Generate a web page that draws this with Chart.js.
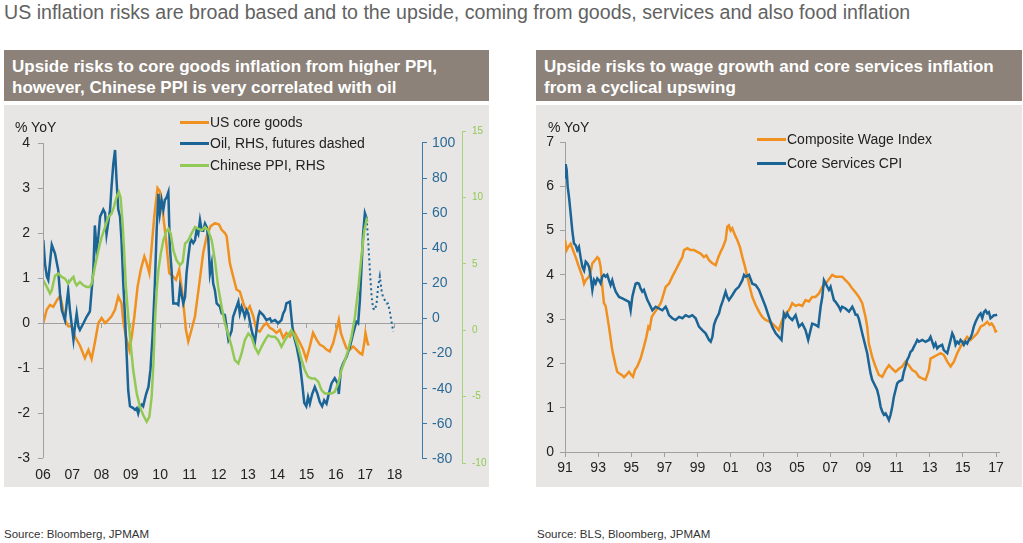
<!DOCTYPE html>
<html>
<head>
<meta charset="utf-8">
<script src="https://cdn.jsdelivr.net/npm/chart.js@4.4.1/dist/chart.umd.min.js"></script>
<style>
  body { margin: 0; background: #fff; font-family: Arial, "Liberation Sans", sans-serif; }
  #page { position: relative; width: 1023px; height: 543px; overflow: hidden; }
  .title { position: absolute; left: 4px; top: 1px; font-size: 19.6px; color: #626262; white-space: nowrap; }
  .head { position: absolute; top: 50px; height: 51px; background: #8c8279; color: #fff; font-weight: bold;
          font-size: 17px; line-height: 21px; box-sizing: border-box; padding: 6px 8px 0 8px; white-space: nowrap; }
  .panel { position: absolute; top: 105px; height: 382px; background: #e8e6e4; }
  canvas { position: absolute; top: 105px; }
  .unit { position: absolute; top: 119px; font-size: 14px; color: #222; }
  .leg { position: absolute; font-size: 14px; color: #222; white-space: nowrap; line-height: 18px; }
  .leg i { display: inline-block; width: 29px; height: 3px; vertical-align: middle; margin-right: 1px; position: relative; top: -1px; }
  .src { position: absolute; top: 528px; font-size: 11.5px; color: #333; }
</style>
</head>
<body>
<div id="page">
  <div class="title">US inflation risks are broad based and to the upside, coming from goods, services and also food inflation</div>

  <div class="head" style="left:4px; width:485px;">Upside risks to core goods inflation from higher PPI,<br>however, Chinese PPI is very correlated with oil</div>
  <div class="panel" style="left:4px; width:485px;"></div>
  <canvas id="left" width="485" height="382" style="left:4px;"></canvas>
  <div class="unit" style="left:15px;">% YoY</div>
  <div class="leg" style="left:180px; top:113px;"><i style="background:#f0901e"></i>US core goods</div>
  <div class="leg" style="left:180px; top:134px;"><i style="background:#1a6496"></i>Oil, RHS, futures dashed</div>
  <div class="leg" style="left:180px; top:156px;"><i style="background:#92c955"></i>Chinese PPI, RHS</div>
  <div class="src" style="left:4px;">Source: Bloomberg, JPMAM</div>

  <div class="head" style="left:536px; width:486px;">Upside risks to wage growth and core services inflation<br>from a cyclical upswing</div>
  <div class="panel" style="left:536px; width:486px;"></div>
  <canvas id="right" width="486" height="382" style="left:536px;"></canvas>
  <div class="unit" style="left:548px;">% YoY</div>
  <div class="leg" style="left:757px; top:130px;"><i style="background:#f0901e"></i>Composite Wage Index</div>
  <div class="leg" style="left:757px; top:154px;"><i style="background:#1a6496"></i>Core Services CPI</div>
  <div class="src" style="left:537px;">Source: BLS, Bloomberg, JPMAM</div>
</div>

<script>
// ---- left chart data ----
const leftYears = [2006, 2007, 2008, 2009, 2010, 2011, 2012, 2013, 2014, 2015, 2016, 2017, 2018];
const leftYearLabels = ['06', '07', '08', '09', '10', '11', '12', '13', '14', '15', '16', '17', '18'];
const leftTicks = [-3, -2, -1, 0, 1, 2, 3, 4];
const oilTicks = [-80, -60, -40, -20, 0, 20, 40, 60, 80, 100];
const ppiTicks = [-10, -5, 0, 5, 10, 15];

const coreGoodsDates = [2006.01, 2006.13, 2006.24, 2006.35, 2006.47, 2006.58, 2006.64, 2006.75, 2006.86, 2006.98,
  2007.09, 2007.26, 2007.43, 2007.55, 2007.66, 2007.77, 2007.89, 2008.00, 2008.12, 2008.23, 2008.34, 2008.46,
  2008.57, 2008.68, 2008.74, 2008.83, 2008.95, 2009.03, 2009.12, 2009.23, 2009.34, 2009.46, 2009.54, 2009.63,
  2009.71, 2009.80, 2009.91, 2009.99, 2010.08, 2010.20, 2010.31, 2010.43, 2010.54, 2010.65, 2010.77, 2010.88,
  2010.96, 2011.07, 2011.19, 2011.34, 2011.47, 2011.59, 2011.72, 2011.87, 2012.01, 2012.10, 2012.21, 2012.27,
  2012.38, 2012.49, 2012.61, 2012.72, 2012.84, 2012.95, 2013.06, 2013.18, 2013.29, 2013.40, 2013.52, 2013.63,
  2013.75, 2013.86, 2013.97, 2014.09, 2014.20, 2014.31, 2014.43, 2014.54, 2014.66, 2014.77, 2014.88, 2014.99,
  2015.11, 2015.22, 2015.34, 2015.45, 2015.57, 2015.68, 2015.79, 2015.91, 2016.02, 2016.10, 2016.17, 2016.25,
  2016.36, 2016.48, 2016.59, 2016.70, 2016.82, 2016.90, 2016.97, 2017.01, 2017.08, 2017.12];
const coreGoodsValues = [0.0, 0.3, 0.4, 0.36, 0.5, 0.6, 0.45, 0.07, -0.07, -0.07,
  -0.3, -0.5, -0.78, -0.6, -0.8, -0.44, 0.0, 0.11, 0.0, 0.07, 0.15, 0.3,
  0.59, 0.44, 0.04, -0.3, -0.6, -0.3, 0.15, 0.81, 1.19, 1.48, 1.33, 1.11,
  1.7, 2.37, 3.0, 2.93, 2.52, 1.85, 1.11, 1.04, 0.96, 1.19, 0.59, -0.15,
  -0.41, -0.15, 0.15, 0.89, 1.56, 1.93, 2.15, 2.22, 2.19, 2.07, 2.0, 1.93,
  1.33, 1.04, 0.74, 0.7, 0.44, 0.26, 0.37, 0.15, -0.15, -0.19, -0.07, 0.0,
  -0.11, -0.15, -0.22, -0.15, -0.33, -0.22, -0.3, -0.15, -0.3, -0.44, -0.59, -0.81,
  -0.52, -0.22, -0.37, -0.48, -0.52, -0.59, -0.63, -0.44, -0.15, 0.07, -0.22, -0.37,
  -0.56, -0.59, -0.52, -0.59, -0.67, -0.7, -0.44, -0.22, -0.44, -0.5];

const oilDates = [2006.01, 2006.07, 2006.13, 2006.18, 2006.30, 2006.41, 2006.52, 2006.58, 2006.64, 2006.75,
  2006.81, 2006.86, 2006.92, 2007.04, 2007.09, 2007.15, 2007.21, 2007.26, 2007.38, 2007.49, 2007.60, 2007.66,
  2007.72, 2007.77, 2007.83, 2007.89, 2007.95, 2008.06, 2008.12, 2008.17, 2008.29, 2008.34, 2008.40, 2008.46,
  2008.51, 2008.57, 2008.63, 2008.68, 2008.74, 2008.80, 2008.86, 2008.91, 2008.97, 2009.08, 2009.14, 2009.20,
  2009.25, 2009.31, 2009.37, 2009.42, 2009.52, 2009.60, 2009.67, 2009.74, 2009.82, 2009.88, 2009.94, 2009.99,
  2010.05, 2010.11, 2010.16, 2010.22, 2010.28, 2010.33, 2010.39, 2010.45, 2010.56, 2010.62, 2010.68, 2010.73,
  2010.79, 2010.85, 2010.90, 2010.96, 2011.02, 2011.07, 2011.13, 2011.19, 2011.24, 2011.30, 2011.36, 2011.42,
  2011.47, 2011.53, 2011.59, 2011.64, 2011.70, 2011.76, 2011.81, 2011.87, 2011.93, 2012.04, 2012.10, 2012.21,
  2012.33, 2012.44, 2012.49, 2012.61, 2012.67, 2012.72, 2012.78, 2012.84, 2012.89, 2012.95, 2013.01, 2013.12,
  2013.23, 2013.35, 2013.40, 2013.52, 2013.63, 2013.75, 2013.80, 2013.92, 2014.03, 2014.14, 2014.20, 2014.26,
  2014.31, 2014.43, 2014.48, 2014.54, 2014.66, 2014.77, 2014.85, 2014.92, 2014.99, 2015.05, 2015.11, 2015.19,
  2015.28, 2015.37, 2015.45, 2015.53, 2015.60, 2015.68, 2015.76, 2015.85, 2015.96, 2016.06, 2016.10, 2016.17,
  2016.25, 2016.36, 2016.48, 2016.59, 2016.70, 2016.76, 2016.82, 2016.87, 2016.93, 2016.99, 2017.05];
const oilValues = [44.7, 31, 24, 22, 42, 37, 27.6, 14, 4.8, -1,
  8.6, 16, 4.8, -12, -4.6, 3, -4.6, -6.5, -2.7, 1, 4, 16,
  27.6, 53, 39, 46.6, 58, 62, 60, 48, 62, 75, 88, 96,
  79, 62, 58, 44.7, 20, 1, -22, -41, -50, -51, -52, -51,
  -54, -50, -49, -50, -43, -39, -29, -10, 20, 50, 71, 60,
  67.5, 62, 67.5, 69, 72, 41, 27.6, 8.6, 8.6, 7.7, 18, 14,
  8.6, 12.4, 25.7, 35, 43, 44.7, 43, 44.7, 50, 48, 56, 50,
  50, 54, 52, 46.6, 25.7, 31.4, 20, 16, 8.6, 6.7, 2.9, 2,
  -12, -7, 1, 6.7, 9.6, 2.9, 6.7, 3.9, 1, 4.8, 2.9, -6.5,
  -14, 1, 3.9, 2, -0.9, 0.1, -1.8, -0.9, -2.7, -0.9, 2.9, 4.8,
  8.6, 9.6, 1, -8.5, -16, -25.5, -37, -48, -50, -44.7, -48.5, -43,
  -39, -42.8, -47.6, -50, -46.6, -48.5, -42.8, -37, -34, -37, -43, -29,
  -25.5, -22, -16, -8.5, -1.8, -2.7, 10.5, 27.6, 48.5, 60, 57];

const oilFuturesDates = [2017.05, 2017.10, 2017.16, 2017.22, 2017.27, 2017.33, 2017.39, 2017.44, 2017.50,
  2017.56, 2017.61, 2017.67, 2017.73, 2017.78, 2017.84, 2017.90, 2017.96];
const oilFuturesValues = [57, 44.7, 27.6, 12.4, 5.8, 4.8, 8.6, 18, 24, 16, 12, 10.5, 8.6, 8.6, 4, -2, -7.5];

const ppiDates = [2006.01, 2006.13, 2006.24, 2006.30, 2006.35, 2006.41, 2006.52, 2006.64, 2006.75, 2006.86,
  2006.98, 2007.04, 2007.09, 2007.15, 2007.26, 2007.38, 2007.49, 2007.60, 2007.66, 2007.77, 2007.89, 2008.00,
  2008.12, 2008.23, 2008.34, 2008.42, 2008.51, 2008.59, 2008.65, 2008.72, 2008.78, 2008.83, 2008.91, 2008.99,
  2009.08, 2009.20, 2009.31, 2009.42, 2009.54, 2009.63, 2009.71, 2009.77, 2009.82, 2009.88, 2009.94, 2010.02,
  2010.11, 2010.20, 2010.28, 2010.36, 2010.45, 2010.56, 2010.68, 2010.77, 2010.85, 2010.96, 2011.07, 2011.19,
  2011.30, 2011.42, 2011.53, 2011.64, 2011.76, 2011.87, 2011.98, 2012.10, 2012.21, 2012.32, 2012.44, 2012.55,
  2012.67, 2012.78, 2012.89, 2013.01, 2013.12, 2013.23, 2013.35, 2013.46, 2013.58, 2013.69, 2013.80, 2013.92,
  2014.03, 2014.14, 2014.26, 2014.37, 2014.48, 2014.60, 2014.71, 2014.83, 2014.94, 2015.05, 2015.17, 2015.28,
  2015.40, 2015.51, 2015.62, 2015.74, 2015.85, 2015.96, 2016.08, 2016.19, 2016.31, 2016.42, 2016.53, 2016.65,
  2016.76, 2016.87, 2016.97, 2017.05, 2017.08];
const ppiValues = [3.76, 3.26, 2.76, 3.0, 3.51, 4.1, 4.26, 4.01, 3.88, 3.51,
  3.88, 4.01, 3.63, 3.38, 3.63, 3.38, 3.26, 3.26, 3.51, 4.76, 6.0, 7.0,
  7.77, 8.52, 8.77, 9.27, 10.0, 10.4, 10.0, 8.0, 5.5, 3.26, 1.0, -1.0,
  -3.0, -4.76, -5.76, -6.39, -6.89, -6.52, -5.01, -2.51, 0.5, 3.01, 4.51, 5.76,
  6.77, 7.39, 7.64, 7.27, 6.02, 5.26, 4.89, 5.14, 6.52, 6.77, 7.27, 7.77,
  7.64, 7.52, 7.77, 7.52, 6.77, 5.26, 3.26, 1.75, 0.5, -0.25, -1.25, -2.26,
  -2.51, -1.75, -0.75, -0.25, -0.5, -1.25, -1.75, -1.25, -0.75, -0.38, -0.5, -0.5,
  -0.75, -1.25, -0.75, -0.38, 0.0, -0.5, -1.25, -2.26, -3.01, -3.51, -3.63, -3.63,
  -3.88, -4.51, -4.76, -4.76, -4.76, -4.64, -4.01, -3.01, -2.26, -1.5, -0.5, 1.0,
  3.01, 5.51, 7.52, 8.3, 8.15];

// ---- right chart data ----
const rightYears = [1991, 1993, 1995, 1997, 1999, 2001, 2003, 2005, 2007, 2009, 2011, 2013, 2015, 2017];
const rightYearLabels = ['91', '93', '95', '97', '99', '01', '03', '05', '07', '09', '11', '13', '15', '17'];
const rightTicks = [0, 1, 2, 3, 4, 5, 6, 7];

const wageDates = [1991.00, 1991.10, 1991.20, 1991.34, 1991.48, 1991.64, 1991.84, 1992.05, 1992.15, 1992.25,
  1992.45, 1992.55, 1992.65, 1992.81, 1992.95, 1993.05, 1993.15, 1993.25, 1993.35, 1993.45, 1993.65, 1993.85,
  1994.05, 1994.15, 1994.26, 1994.42, 1994.56, 1994.70, 1994.86, 1995.00, 1995.10, 1995.22, 1995.36, 1995.56,
  1995.76, 1995.91, 1996.03, 1996.11, 1996.23, 1996.37, 1996.57, 1996.77, 1996.87, 1997.07, 1997.27, 1997.47,
  1997.67, 1997.88, 1998.08, 1998.18, 1998.38, 1998.58, 1998.78, 1998.98, 1999.18, 1999.38, 1999.52, 1999.69,
  1999.89, 2000.09, 2000.25, 2000.39, 2000.53, 2000.69, 2000.79, 2000.89, 2000.99, 2001.09, 2001.25, 2001.39,
  2001.55, 2001.70, 2001.86, 2002.00, 2002.14, 2002.30, 2002.50, 2002.70, 2002.90, 2003.10, 2003.30, 2003.50,
  2003.70, 2003.90, 2004.10, 2004.31, 2004.51, 2004.71, 2004.91, 2005.11, 2005.31, 2005.51, 2005.71, 2005.91,
  2006.11, 2006.32, 2006.52, 2006.72, 2006.92, 2007.12, 2007.32, 2007.52, 2007.72, 2007.92, 2008.13, 2008.33,
  2008.53, 2008.73, 2008.93, 2009.13, 2009.23, 2009.33, 2009.53, 2009.73, 2009.93, 2010.14, 2010.34, 2010.54,
  2010.74, 2010.94, 2011.14, 2011.34, 2011.54, 2011.74, 2011.95, 2012.15, 2012.35, 2012.55, 2012.75, 2012.95,
  2013.05, 2013.25, 2013.45, 2013.65, 2013.85, 2014.06, 2014.26, 2014.46, 2014.66, 2014.86, 2015.06, 2015.26,
  2015.46, 2015.66, 2015.87, 2016.07, 2016.27, 2016.47, 2016.61, 2016.73, 2016.87, 2016.97, 2017.07];
const wageValues = [4.79, 4.56, 4.63, 4.7, 4.56, 4.4, 4.18, 3.96, 3.8, 3.88,
  3.96, 4.07, 4.26, 4.33, 4.4, 4.36, 4.18, 3.73, 3.36, 3.3, 2.83, 2.3,
  1.96, 1.81, 1.78, 1.74, 1.69, 1.74, 1.81, 1.74, 1.7, 1.85, 1.93, 2.11,
  2.38, 2.6, 2.83, 2.79, 3.05, 3.13, 3.24, 3.36, 3.47, 3.73, 3.8, 3.96,
  4.1, 4.26, 4.4, 4.56, 4.6, 4.56, 4.56, 4.52, 4.48, 4.4, 4.44, 4.33,
  4.26, 4.22, 4.4, 4.52, 4.63, 4.79, 5.09, 5.12, 5.0, 5.05, 4.9, 4.79,
  4.63, 4.4, 4.18, 3.96, 3.73, 3.5, 3.32, 3.17, 3.05, 2.98, 2.95, 2.9,
  2.83, 2.75, 2.98, 3.13, 3.2, 3.36, 3.3, 3.33, 3.3, 3.43, 3.4, 3.5,
  3.5, 3.58, 3.73, 3.8, 3.9, 4.0, 3.96, 3.96, 3.96, 3.88, 3.8, 3.69,
  3.6, 3.5, 3.36, 3.05, 2.83, 2.45, 2.15, 1.93, 1.74, 1.7, 1.85, 1.96,
  1.88, 1.81, 1.88, 1.93, 2.04, 1.96, 1.85, 1.81, 1.7, 1.66, 1.63, 1.85,
  2.11, 2.15, 2.19, 2.23, 2.19, 2.04, 1.93, 2.04, 2.23, 2.38, 2.49, 2.6,
  2.53, 2.6, 2.68, 2.83, 2.87, 2.94, 2.87, 2.9, 2.83, 2.72, 2.74];

const servicesDates = [1991.00, 1991.04, 1991.10, 1991.16, 1991.24, 1991.34, 1991.44, 1991.54, 1991.64, 1991.74,
  1991.84, 1991.94, 1992.05, 1992.15, 1992.25, 1992.35, 1992.45, 1992.55, 1992.65, 1992.75, 1992.85, 1992.95,
  1993.05, 1993.15, 1993.25, 1993.35, 1993.45, 1993.55, 1993.65, 1993.75, 1993.85, 1993.96, 1994.06, 1994.26,
  1994.46, 1994.66, 1994.86, 1994.96, 1995.06, 1995.16, 1995.26, 1995.36, 1995.46, 1995.56, 1995.66, 1995.76,
  1995.87, 1995.97, 1996.07, 1996.17, 1996.27, 1996.47, 1996.67, 1996.87, 1997.07, 1997.17, 1997.27, 1997.47,
  1997.67, 1997.88, 1998.08, 1998.28, 1998.48, 1998.68, 1998.88, 1999.08, 1999.28, 1999.48, 1999.69, 1999.79,
  1999.89, 1999.99, 2000.09, 2000.29, 2000.39, 2000.53, 2000.59, 2000.69, 2000.79, 2000.89, 2001.09, 2001.29,
  2001.49, 2001.70, 2001.80, 2001.90, 2002.10, 2002.30, 2002.50, 2002.70, 2002.90, 2003.10, 2003.30, 2003.50,
  2003.71, 2003.90, 2004.06, 2004.20, 2004.31, 2004.41, 2004.51, 2004.71, 2004.91, 2005.11, 2005.31, 2005.51,
  2005.67, 2005.81, 2005.91, 2006.11, 2006.28, 2006.42, 2006.52, 2006.62, 2006.72, 2006.82, 2006.92, 2007.02,
  2007.12, 2007.22, 2007.32, 2007.52, 2007.62, 2007.72, 2007.92, 2008.13, 2008.33, 2008.43, 2008.53, 2008.63,
  2008.73, 2008.93, 2009.13, 2009.23, 2009.33, 2009.43, 2009.53, 2009.69, 2009.83, 2009.93, 2010.04, 2010.14,
  2010.24, 2010.34, 2010.44, 2010.54, 2010.64, 2010.74, 2010.84, 2010.94, 2011.04, 2011.14, 2011.34, 2011.44,
  2011.54, 2011.64, 2011.74, 2011.84, 2011.95, 2012.05, 2012.15, 2012.25, 2012.35, 2012.55, 2012.75, 2012.95,
  2013.05, 2013.15, 2013.25, 2013.35, 2013.45, 2013.55, 2013.75, 2013.85, 2014.06, 2014.16, 2014.26, 2014.36,
  2014.46, 2014.56, 2014.66, 2014.76, 2014.86, 2014.96, 2015.06, 2015.16, 2015.26, 2015.36, 2015.46, 2015.56,
  2015.66, 2015.77, 2015.87, 2015.97, 2016.07, 2016.17, 2016.27, 2016.37, 2016.47, 2016.57, 2016.67, 2016.77,
  2016.87, 2016.97, 2017.07];
const servicesValues = [6.2, 6.5, 6.37, 6.0, 5.76, 5.39, 5.0, 4.71, 4.67, 4.56,
  4.63, 4.4, 4.18, 4.1, 4.3, 4.26, 4.18, 3.96, 3.66, 3.88, 3.81, 3.92,
  3.88, 3.81, 3.96, 4.0, 3.96, 4.0, 3.88, 3.77, 3.88, 3.73, 3.62, 3.5,
  3.47, 3.43, 3.39, 3.2, 3.5, 3.66, 3.8, 3.82, 3.8, 3.69, 3.62, 3.66,
  3.54, 3.43, 3.36, 3.28, 3.2, 3.28, 3.24, 3.2, 3.28, 3.2, 3.09, 3.02,
  2.98, 3.05, 3.02, 3.09, 3.05, 3.09, 3.02, 2.83, 2.75, 2.68, 2.53, 2.49,
  2.6, 2.87, 2.98, 3.13, 3.28, 3.43, 3.5, 3.62, 3.5, 3.43, 3.54, 3.66,
  3.73, 3.88, 4.0, 3.96, 4.0, 3.8, 3.77, 3.66, 3.47, 3.28, 3.05, 2.83,
  2.68, 2.6, 2.53, 3.13, 3.05, 3.13, 3.05, 2.98, 3.09, 2.83, 2.9, 2.75,
  2.53, 2.75, 2.9, 2.87, 2.83, 3.28, 3.5, 3.88, 3.81, 3.73, 3.66, 3.73,
  3.58, 3.43, 3.39, 3.28, 3.2, 3.28, 3.24, 3.17, 3.28, 3.2, 3.1, 3.1,
  3.0, 2.68, 2.38, 2.23, 2.0, 1.78, 1.63, 1.51, 1.4, 1.25, 1.02, 0.91,
  0.84, 0.87, 0.8, 0.72, 0.84, 1.02, 1.25, 1.4, 1.55, 1.59, 1.63, 1.81,
  1.93, 2.08, 2.15, 2.26, 2.3, 2.38, 2.45, 2.53, 2.49, 2.53, 2.49, 2.53,
  2.6, 2.49, 2.38, 2.45, 2.34, 2.38, 2.42, 2.3, 2.23, 2.38, 2.53, 2.68,
  2.6, 2.42, 2.49, 2.45, 2.53, 2.49, 2.42, 2.49, 2.45, 2.53, 2.57, 2.68,
  2.83, 2.94, 3.02, 3.09, 3.13, 3.02, 3.16, 3.2, 3.13, 3.16, 3.02, 3.05,
  3.09, 3.09, 3.1];

const ORANGE = '#f0901e';
const BLUE = '#1a6496';
const GREEN = '#92c955';
const AXIS_GREY = '#a0a0a0';
const TEXT = '#222';
const FONT = 'Arial, "Liberation Sans", sans-serif';

const toPoints = (dates, values) => dates.map((d, i) => ({ x: d, y: values[i] }));
const fixedTicks = (list) => (scale) => { scale.ticks = list.map(v => ({ value: v })); };

// draws a y axis line only from its lowest to its highest tick
const axisLines = {
  id: 'axisLines',
  afterDraw(chart, args, opts) {
    const ctx = chart.ctx;
    (opts.lines || []).forEach(l => {
      const s = chart.scales[l.id];
      const vals = s.ticks.map(t => t.value);
      const x = Math.round(s.position === 'left' ? s.right : s.left) + 0.5;
      ctx.save();
      ctx.strokeStyle = l.color;
      ctx.lineWidth = 1;
      ctx.beginPath();
      ctx.moveTo(x, s.getPixelForValue(Math.min(...vals)));
      ctx.lineTo(x, s.getPixelForValue(Math.max(...vals)));
      ctx.stroke();
      ctx.restore();
    });
  }
};

const lineDs = (label, data, color, yAxisID, extra) => Object.assign({
  label: label,
  data: data,
  borderColor: color,
  borderWidth: 2.5,
  pointRadius: 0,
  tension: 0,
  fill: false,
  xAxisID: 'x',
  yAxisID: yAxisID
}, extra || {});

new Chart(document.getElementById('left'), {
  type: 'line',
  data: {
    datasets: [
      lineDs('Chinese PPI, RHS', toPoints(ppiDates, ppiValues), GREEN, 'yPpi'),
      lineDs('Oil, RHS', toPoints(oilDates, oilValues), BLUE, 'yOil'),
      lineDs('Oil futures', toPoints(oilFuturesDates, oilFuturesValues), BLUE, 'yOil', { borderWidth: 2, borderDash: [2, 3] }),
      lineDs('US core goods', toPoints(coreGoodsDates, coreGoodsValues), ORANGE, 'y')
    ]
  },
  options: {
    responsive: false,
    animation: false,
    devicePixelRatio: 1,
    layout: { padding: { top: 26, left: 0, right: 0, bottom: 0 } },
    plugins: {
      legend: { display: false },
      tooltip: { enabled: false },
      axisLines: { lines: [{ id: 'y', color: AXIS_GREY }, { id: 'yOil', color: '#3d78a6' }, { id: 'yPpi', color: '#a8d479' }] }
    },
    scales: {
      x: {
        type: 'linear', position: 'bottom', min: 2006, max: 2018.94,
        afterBuildTicks: fixedTicks(leftYears),
        afterFit: (s) => { s.height = 24; },
        grid: { display: false, drawTicks: false },
        border: { display: false },
        ticks: {
          padding: 4, color: TEXT, font: { family: FONT, size: 14 }, maxRotation: 0,
          callback: (v) => leftYearLabels[leftYears.indexOf(v)]
        }
      },
      x2: {
        type: 'linear', axis: 'x', position: { y: 0 }, min: 2006, max: 2018.94,
        afterBuildTicks: fixedTicks(leftYears),
        grid: { drawOnChartArea: false, tickLength: 4, tickColor: AXIS_GREY },
        border: { color: AXIS_GREY },
        ticks: { display: false }
      },
      y: {
        type: 'linear', position: 'left', min: -3.111, max: 4.267,
        afterBuildTicks: fixedTicks(leftTicks),
        afterFit: (s) => { s.width = 39; },
        grid: { drawOnChartArea: false, tickLength: 5, tickColor: AXIS_GREY },
        border: { display: false },
        ticks: { padding: 8, color: TEXT, font: { family: FONT, size: 14 } }
      },
      yOil: {
        type: 'linear', position: 'right', min: -82.3, max: 106.8,
        afterBuildTicks: fixedTicks(oilTicks),
        afterFit: (s) => { s.width = 40; },
        grid: { drawOnChartArea: false, tickLength: 5, tickColor: '#3d78a6' },
        border: { display: false },
        ticks: { padding: 5, color: '#2a6a98', font: { family: FONT, size: 14 } }
      },
      yPpi: {
        type: 'linear', position: 'right', min: -10, max: 15,
        afterBuildTicks: fixedTicks(ppiTicks),
        afterFit: (s) => { s.width = 27; },
        grid: { drawOnChartArea: false, tickLength: 4, tickColor: '#a8d479' },
        border: { display: false },
        ticks: { padding: 6, color: GREEN, font: { family: FONT, size: 10 } }
      }
    }
  },
  plugins: [axisLines]
});

new Chart(document.getElementById('right'), {
  type: 'line',
  data: {
    datasets: [
      lineDs('Core Services CPI', toPoints(servicesDates, servicesValues), BLUE, 'y'),
      lineDs('Composite Wage Index', toPoints(wageDates, wageValues), ORANGE, 'y')
    ]
  },
  options: {
    responsive: false,
    animation: false,
    devicePixelRatio: 1,
    layout: { padding: { top: 37, left: 0, right: 23, bottom: 0 } },
    plugins: {
      legend: { display: false },
      tooltip: { enabled: false }
    },
    scales: {
      x: {
        type: 'linear', position: 'bottom', min: 1991, max: 2017.18,
        afterBuildTicks: fixedTicks(rightYears),
        afterFit: (s) => { s.height = 35; },
        grid: { drawOnChartArea: false, tickLength: 5, tickColor: AXIS_GREY },
        border: { color: AXIS_GREY },
        ticks: {
          padding: 3, color: TEXT, font: { family: FONT, size: 14 }, maxRotation: 0,
          callback: (v) => rightYearLabels[rightYears.indexOf(v)]
        }
      },
      y: {
        type: 'linear', position: 'left', min: 0, max: 7,
        afterBuildTicks: fixedTicks(rightTicks),
        afterFit: (s) => { s.width = 29; },
        grid: { drawOnChartArea: false, tickLength: 5, tickColor: AXIS_GREY },
        border: { color: AXIS_GREY },
        ticks: { padding: 6, color: TEXT, font: { family: FONT, size: 14 } }
      }
    }
  }
});
</script>
</body>
</html>
